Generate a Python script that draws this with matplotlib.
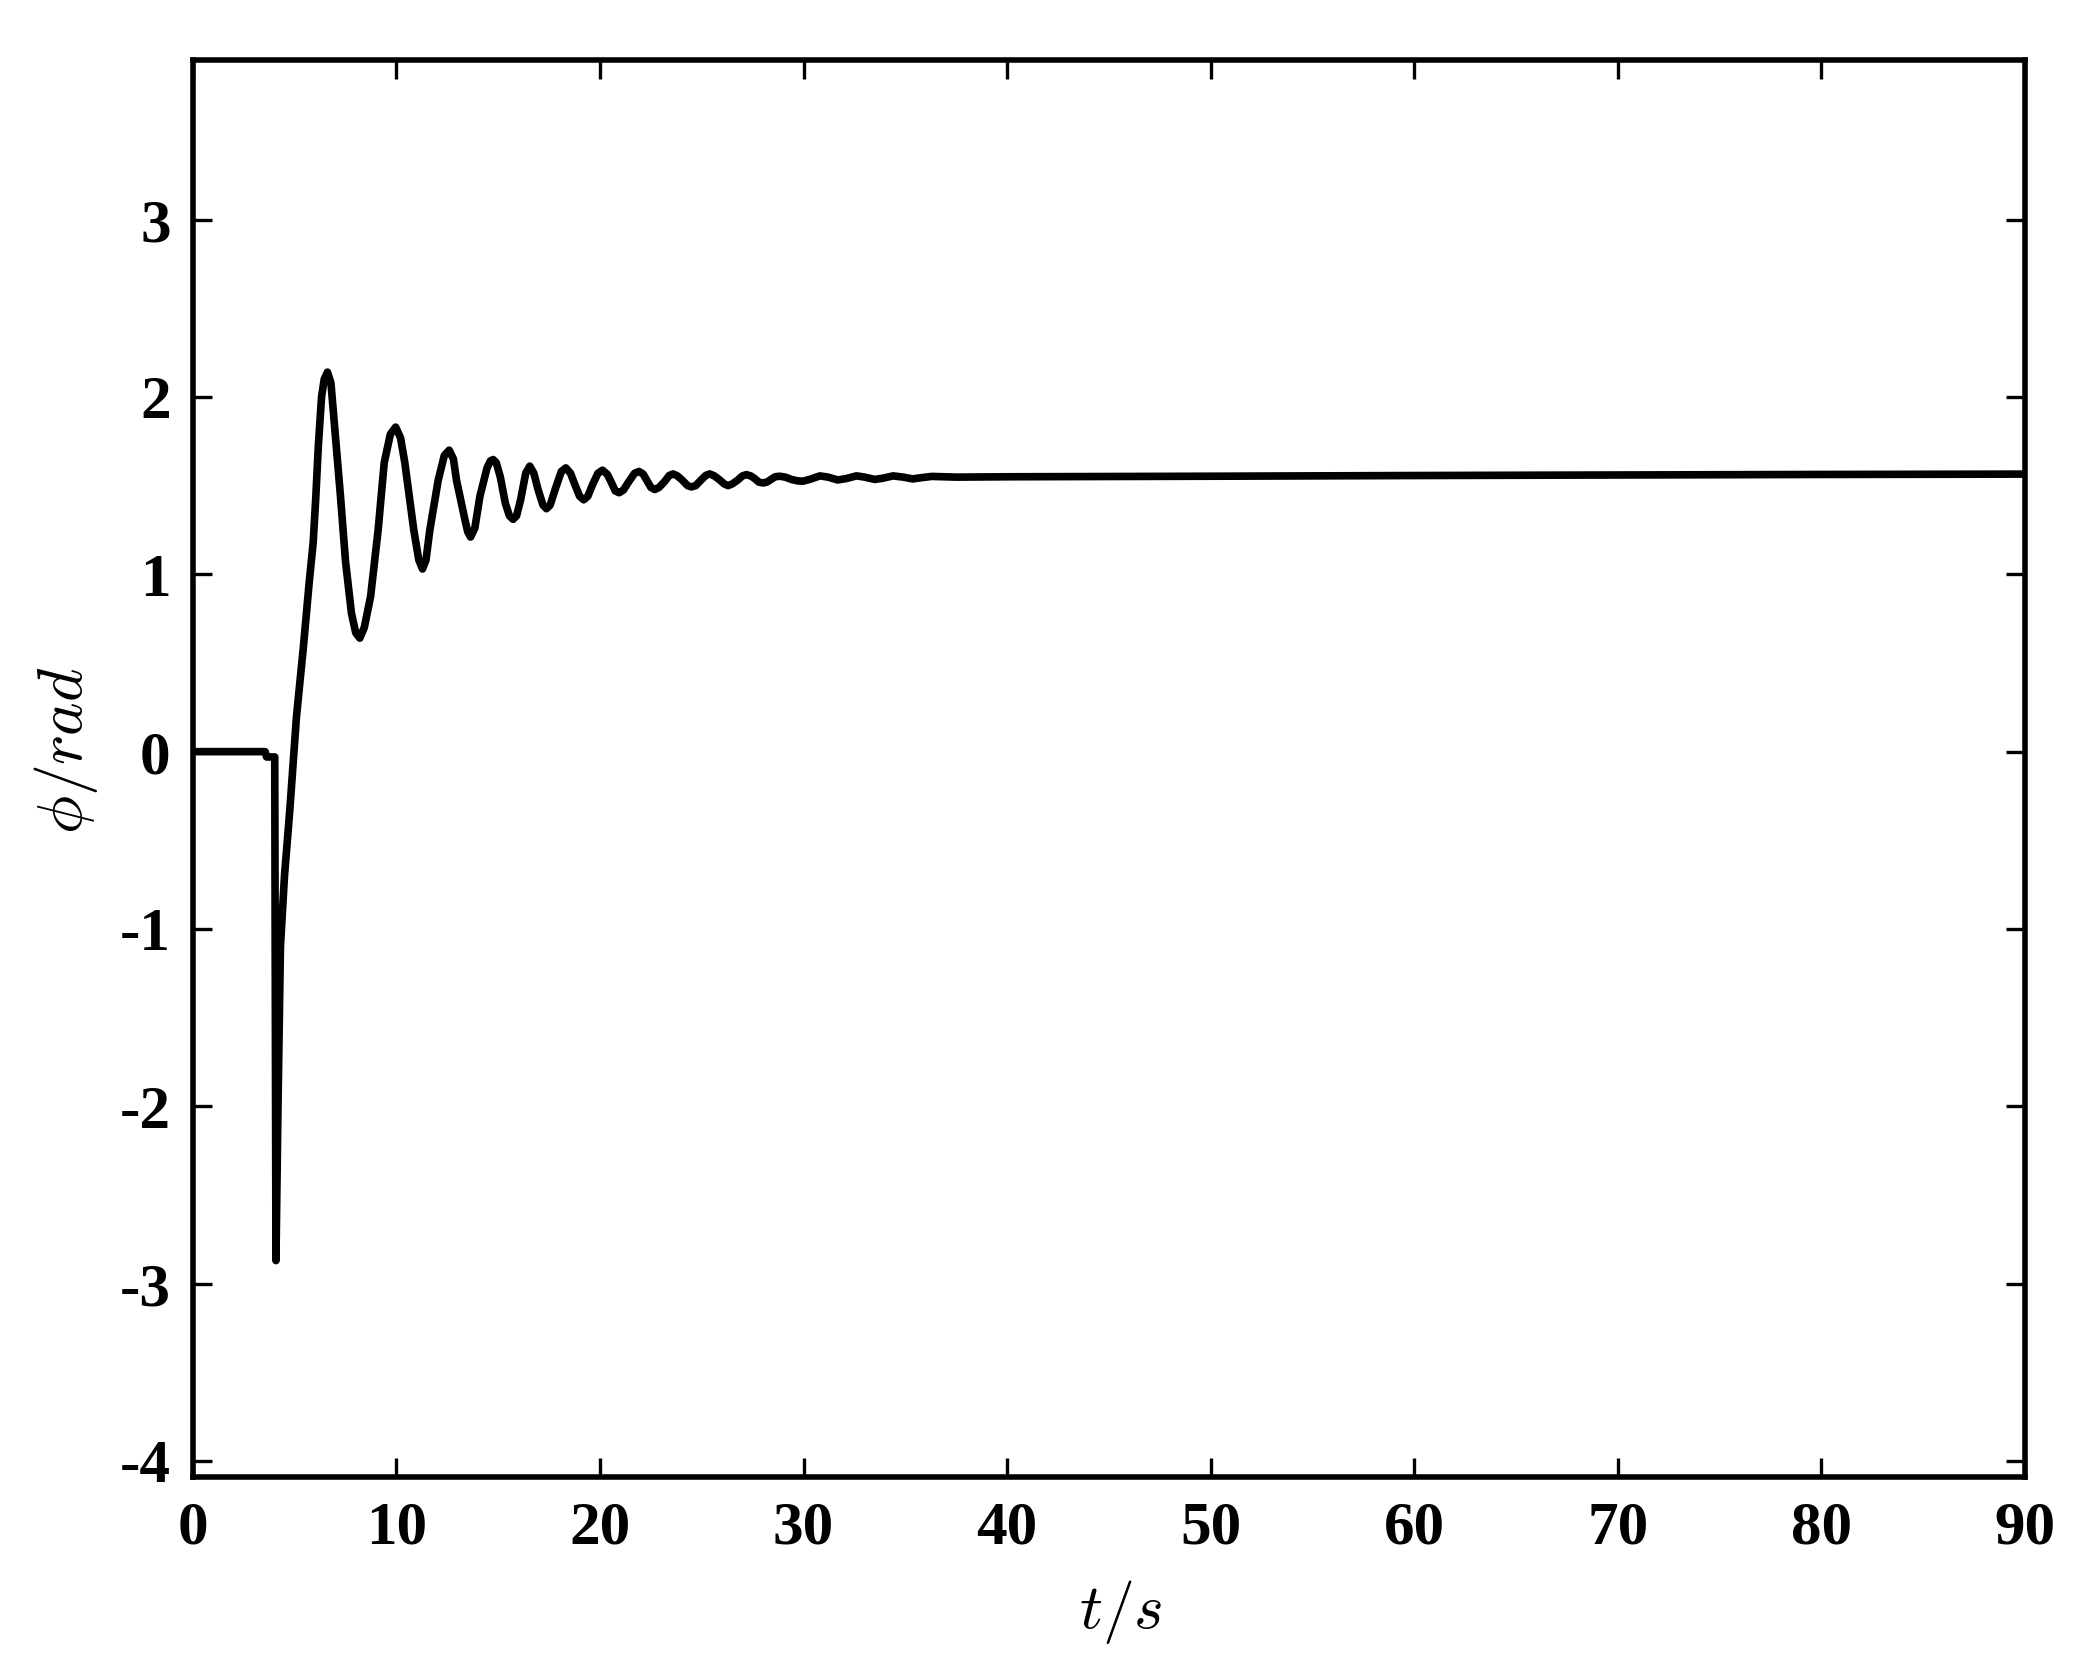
import numpy as np
import matplotlib
matplotlib.use("Agg")
import matplotlib.pyplot as plt

plt.rcParams['mathtext.fontset'] = 'cm'
plt.rcParams['axes.unicode_minus'] = False

# time (s) and roll angle (rad)
t = [0, 3.55, 3.62, 4.02, 4.08, 4.18, 4.30, 4.50, 4.76, 5.09, 5.42, 5.71, 5.91,
     6.04, 6.16, 6.32, 6.45, 6.61, 6.78, 6.97, 7.25, 7.50, 7.79, 8.00, 8.20,
     8.42, 8.73, 9.10, 9.40, 9.70, 9.96, 10.20, 10.41, 10.85, 11.10, 11.28,
     11.45, 11.64, 12.05, 12.35, 12.59, 12.80, 12.95, 13.36, 13.50, 13.64, 13.85,
     14.10, 14.45, 14.62, 14.75, 14.90, 15.10, 15.35, 15.55, 15.73, 15.90,
     16.10, 16.35, 16.55, 16.75, 16.95, 17.20, 17.37, 17.55, 17.80, 18.10,
     18.32, 18.55, 18.75, 19.00, 19.20, 19.40, 19.65, 19.90, 20.12, 20.35,
     20.55, 20.75, 20.94, 21.15, 21.40, 21.70, 21.92, 22.12, 22.30, 22.50,
     22.69, 22.90, 23.15, 23.40, 23.59, 23.80, 24.05, 24.30, 24.49, 24.70,
     24.95, 25.20, 25.39, 25.60, 25.85, 26.10, 26.29, 26.50, 26.75, 27.00,
     27.19, 27.40, 27.60, 27.80, 28.01, 28.20, 28.40, 28.60, 28.83, 29.10,
     29.40, 29.70, 29.96, 30.30, 30.80, 31.20, 31.68, 32.10, 32.60, 33.00,
     33.50, 33.90, 34.40, 34.90, 35.36, 35.80, 36.30, 37.50,
     40, 50, 60, 70, 80, 90]
phi = [0, 0, -0.03, -0.03, -2.87, -2.00, -1.10, -0.70, -0.33, 0.20, 0.58, 0.95,
       1.18, 1.44, 1.72, 2.00, 2.10, 2.14, 2.08, 1.82, 1.44, 1.07, 0.78, 0.67,
       0.64, 0.70, 0.875, 1.25, 1.63, 1.79, 1.83, 1.77, 1.63, 1.25, 1.08, 1.03,
       1.08, 1.25, 1.53, 1.67, 1.70, 1.65, 1.53, 1.31, 1.24, 1.21, 1.26,
       1.44, 1.60, 1.64, 1.647, 1.63, 1.55, 1.40, 1.33, 1.31, 1.33,
       1.42, 1.57, 1.61, 1.57, 1.48, 1.39, 1.37, 1.39, 1.48, 1.58,
       1.60, 1.57, 1.51, 1.44, 1.42, 1.44, 1.51, 1.57, 1.587, 1.565,
       1.52, 1.47, 1.46, 1.475, 1.52, 1.57, 1.58, 1.565, 1.53, 1.49,
       1.478, 1.49, 1.52, 1.557, 1.566, 1.555, 1.53, 1.50, 1.493, 1.50,
       1.53, 1.558, 1.566, 1.556, 1.535, 1.51, 1.50, 1.51, 1.53, 1.555,
       1.562, 1.555, 1.54, 1.52, 1.515, 1.52, 1.535, 1.55, 1.553, 1.548,
       1.535, 1.527, 1.525, 1.535, 1.555, 1.548, 1.532, 1.54, 1.555, 1.548,
       1.535, 1.542, 1.555, 1.548, 1.538, 1.545, 1.552, 1.548,
       1.55, 1.553, 1.557, 1.56, 1.563, 1.565]

xticks = [0, 10, 20, 30, 40, 50, 60, 70, 80, 90]
yticks = [-4, -3, -2, -1, 0, 1, 2, 3]

fig = plt.figure(figsize=(20.99, 16.77), dpi=100)
ax = fig.add_axes([0.0919, 0.1193, 0.8728, 0.8449])

ax.plot(t, phi, color='black', lw=5.5, solid_joinstyle='round')

ax.set_xlim(0, 90)
ax.set_ylim(-4.09, 3.9)
ax.set_xticks(xticks)
ax.set_yticks(yticks)
tick_font = dict(family='Liberation Serif', weight='bold', size=44)
ax.set_xticklabels([str(v) for v in xticks], fontdict=tick_font)
ax.set_yticklabels([str(v) for v in yticks], fontdict=tick_font)
ax.tick_params(axis='both', direction='in', top=True, right=True,
               length=14, width=2.4)
ax.tick_params(axis='x', pad=17)
ax.tick_params(axis='y', pad=16)
for s in ax.spines.values():
    s.set_linewidth(4)

ax.set_xlabel(r'$t/s$', fontsize=46)
ax.xaxis.set_label_coords(0.5066, -0.0713)
ax.set_ylabel(r'$\phi/rad$', fontsize=46)
ax.yaxis.set_label_coords(-0.0508, 0.513)

fig.savefig('out.png', dpi=100)
